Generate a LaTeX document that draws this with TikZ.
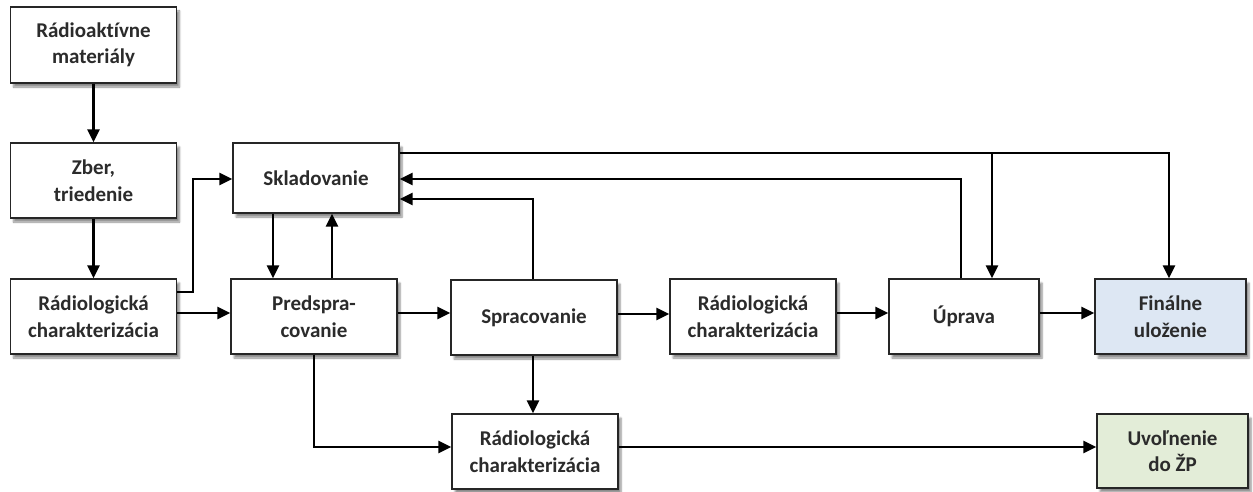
\documentclass[tikz,border=0pt]{standalone}
\usepackage{fontspec}
\setmainfont{Carlito}[Ligatures={NoCommon}]
\usetikzlibrary{arrows.meta,shadows.blur}
\definecolor{finfill}{HTML}{DDE7F3}
\definecolor{relfill}{HTML}{E3EDD8}
\definecolor{txt}{HTML}{2B2B2B}
\begin{document}
\begin{tikzpicture}[x=1pt,y=-1pt,
  box/.style={draw=black!85, line width=1.2pt, fill=white, align=center,
    minimum width=166pt, minimum height=75pt, inner sep=0pt,
    text=txt, font=\bfseries\fontsize{21}{26.5}\selectfont,
    blur shadow={shadow xshift=3pt, shadow yshift=-4pt, shadow blur steps=6, shadow opacity=45}},
  arr/.style={line width=2.6pt, black, -{Triangle[length=13pt,width=12pt]}},
  ln/.style={line width=2.6pt, black}]
  \useasboundingbox (0,0) rectangle (1253,492);

  % left column
  \node[box, minimum height=76pt] (b1) at (93.5,45) {Rádioaktívne\\materiály};
  \node[box] (b2) at (93.5,180.5) {Zber,\\triedenie};
  \node[box] (rc1) at (93.5,316.5) {Rádiologická\\charakterizácia};

  % storage and main process row
  \node[box, minimum height=70pt] (sk) at (316,178) {Skladovanie};
  \node[box] (pr) at (314,316.5) {Predspra-\\covanie};
  \node[box] (sp) at (534,317.5) {Spracovanie};
  \node[box] (rc2) at (753,316.5) {Rádiologická\\charakterizácia};
  \node[box, minimum width=150pt] (up) at (964,316.5) {Úprava};
  \node[box, minimum width=151pt, fill=finfill] (fi) at (1170.5,316.5) {Finálne\\uloženie};

  % bottom row
  \node[box] (rc3) at (535,451.5) {Rádiologická\\charakterizácia};
  \node[box, minimum width=151pt, minimum height=74pt, fill=relfill] (uv) at (1172.5,451) {Uvoľnenie\\do ŽP};

  % flows down the left column
  \draw[arr] (b1) -- (b2);
  \draw[arr] (b2) -- (rc1);
  \draw[arr] ([yshift=24.5pt]rc1.east) -- ++(16,0) |- ([yshift=-1pt]sk.west);

  % main row
  \draw[arr] ([yshift=3.5pt]rc1.east) -- ([yshift=3.5pt]pr.west);
  \draw[arr] ([yshift=3.5pt]pr.east) -- ([yshift=3.5pt]pr.east -| sp.west);
  \draw[arr] ([yshift=3.5pt]sp.east) -- ([yshift=3.5pt]sp.east -| rc2.west);
  \draw[arr] ([yshift=3.5pt]rc2.east) -- ([yshift=3.5pt]up.west);
  \draw[arr] ([yshift=3.5pt]up.east) -- ([yshift=3.5pt]fi.west);

  % storage exchanges
  \draw[arr] ([xshift=-43pt]sk.south) -- ([xshift=-43pt]sk.south |- pr.north);
  \draw[arr] ([xshift=18pt]pr.north) -- ([xshift=18pt]pr.north |- sk.south);

  \coordinate (top) at ([yshift=25pt]sk.east);
  \draw[arr] (top) -| ([xshift=-1.5pt]fi.north);
  \draw[arr] ([xshift=28pt]up.north |- top) -- ([xshift=28pt]up.north);
  \draw[arr] ([xshift=-3pt]up.north) |- ([yshift=-1pt]sk.east);
  \draw[arr] ([xshift=-1pt]sp.north) |- ([yshift=-21pt]sk.east);

  % clearance path
  \draw[arr] ([xshift=-1pt]sp.south) -- ([xshift=-1pt]sp.south |- rc3.north);
  \draw[arr] (pr.south) |- ([yshift=4.5pt]rc3.west);
  \draw[arr] ([yshift=4.5pt]rc3.east) -- ([yshift=4.5pt]rc3.east -| uv.west);
\end{tikzpicture}
\end{document}
